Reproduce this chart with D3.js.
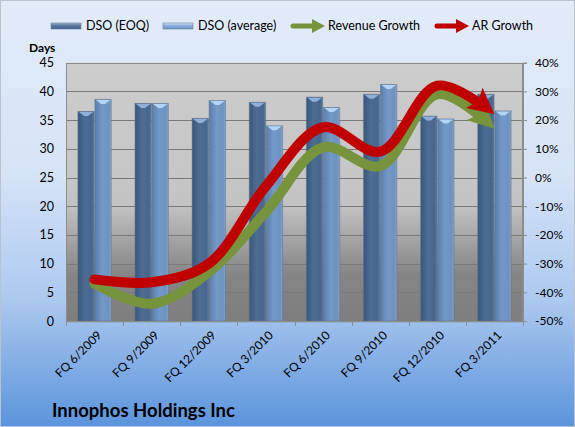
<!DOCTYPE html>
<html>
<head>
<meta charset="utf-8">
<script src="https://cdn.jsdelivr.net/npm/d3@7"></script>
<style>
  body { margin: 0; }
  text { font-family: Lato, "Open Sans", sans-serif; fill: #000; }
</style>
</head>
<body>
<div id="chart"></div>
<script>
var svgWidth = 575;
var svgHeight = 427;

// data
var categories = ["FQ 6/2009", "FQ 9/2009", "FQ 12/2009", "FQ 3/2010", "FQ 6/2010", "FQ 9/2010", "FQ 12/2010", "FQ 3/2011"];
var dsoEoq = [36.5, 37.9, 35.3, 38.1, 39.0, 39.5, 35.7, 39.5];
var dsoAvg = [38.6, 37.9, 38.4, 34.0, 37.2, 41.2, 35.2, 36.6];
var revenueGrowth = [-0.37, -0.44, -0.33, -0.12, 0.105, 0.04, 0.29, 0.17];
var arGrowth = [-0.355, -0.365, -0.30, -0.03, 0.175, 0.09, 0.32, 0.22];
var daysTicks = [0, 5, 10, 15, 20, 25, 30, 35, 40, 45];
var pctTicks = [-0.5, -0.4, -0.3, -0.2, -0.1, 0, 0.1, 0.2, 0.3, 0.4];

var plot = { left: 66, right: 523, top: 62.7, bottom: 321 };

var svg = d3.select("#chart")
            .append("svg")
            .attr("width", svgWidth)
            .attr("height", svgHeight);

var defs = svg.append("defs");

function linGrad(id, vertical, stops) {
    var g = defs.append("linearGradient").attr("id", id)
        .attr("x1", 0).attr("y1", 0)
        .attr("x2", vertical ? 0 : 1).attr("y2", vertical ? 1 : 0);
    stops.forEach(function(s) {
        g.append("stop").attr("offset", s[0]).attr("stop-color", s[1]);
    });
}

linGrad("bgGrad", true, [[0, "#e2ebf9"], [0.4, "#d6e4f7"], [0.7, "#adc9ef"], [1, "#5b94dc"]]);
linGrad("plotGrad", true, [[0, "#cccccc"], [0.45, "#c6c6c6"], [0.55, "#c3c3c3"], [0.82, "#858585"], [1, "#7e7e7e"]]);
linGrad("eoqGrad", false, [[0, "#3a5779"], [0.45, "#4d6d95"], [0.85, "#46668e"], [1, "#5a7aa0"]]);
linGrad("avgGrad", false, [[0, "#5b7faa"], [0.45, "#7399c8"], [0.85, "#6c92c2"], [1, "#86a6cc"]]);
linGrad("eoqLeg", true, [[0, "#9fb3cc"], [0.4, "#5c7ba3"], [1, "#3f5e86"]]);
linGrad("avgLeg", true, [[0, "#d6e8fa"], [0.4, "#8fb2dc"], [1, "#6a91c2"]]);

svg.append("rect")
   .attr("x", 0.5).attr("y", 0.5)
   .attr("width", svgWidth - 1).attr("height", svgHeight - 1)
   .attr("fill", "url(#bgGrad)")
   .attr("stroke", "#b9c3cf");

var xScale = d3.scaleBand()
               .domain(categories)
               .range([plot.left, plot.right]);

var xInner = d3.scaleBand()
               .domain(["eoq", "avg"])
               .range([0, xScale.bandwidth()])
               .paddingInner(0.04)
               .paddingOuter(0.7);

var yDays = d3.scaleLinear()
              .domain([0, 45])
              .range([plot.bottom, plot.top]);

var yPct = d3.scaleLinear()
             .domain([-0.5, 0.4])
             .range([plot.bottom, plot.top]);

// plot area
svg.append("rect")
   .attr("x", plot.left).attr("y", plot.top)
   .attr("width", plot.right - plot.left).attr("height", plot.bottom - plot.top)
   .attr("fill", "url(#plotGrad)");

svg.append("g").selectAll("line")
   .data(daysTicks.slice(1))
   .join("line")
   .attr("x1", plot.left).attr("x2", plot.right)
   .attr("y1", d => Math.round(yDays(d)) + 0.5)
   .attr("y2", d => Math.round(yDays(d)) + 0.5)
   .attr("stroke", "#7a7a7a");

svg.append("rect")
   .attr("x", plot.left + 0.5).attr("y", Math.round(plot.top) + 0.5)
   .attr("width", plot.right - plot.left - 1).attr("height", plot.bottom - plot.top)
   .attr("fill", "none")
   .attr("stroke", "#8c8c8c");

// bars
var series = [
    { key: "eoq", values: dsoEoq, fill: "url(#eoqGrad)", cap: "#8fb0d8" },
    { key: "avg", values: dsoAvg, fill: "url(#avgGrad)", cap: "#b3d4f4" }
];

var barG = svg.append("g");
series.forEach(function(s) {
    var g = barG.append("g");
    var bw = xInner.bandwidth();
    g.selectAll("rect")
     .data(s.values)
     .join("rect")
     .attr("x", (d, i) => xScale(categories[i]) + xInner(s.key))
     .attr("y", d => yDays(d))
     .attr("width", bw)
     .attr("height", d => yDays(0) - yDays(d))
     .attr("fill", s.fill)
     .attr("stroke", "#5d6f86")
     .attr("stroke-opacity", 0.5);
    g.selectAll("path")
     .data(s.values)
     .join("path")
     .attr("d", function(d, i) {
        var x0 = xScale(categories[i]) + xInner(s.key);
        var y0 = yDays(d);
        return "M" + (x0 + 1) + "," + (y0 + 0.5) + "L" + (x0 + bw - 1) + "," + (y0 + 0.5) +
               "L" + (x0 + bw * 0.62) + "," + (y0 + 4.5) + "L" + (x0 + bw * 0.38) + "," + (y0 + 4.5) + "Z";
     })
     .attr("fill", s.cap);
});

// growth lines
function addArrow(id, color) {
    defs.append("marker")
        .attr("id", id)
        .attr("viewBox", "0 0 26 26")
        .attr("refX", 26).attr("refY", 13)
        .attr("markerWidth", 26).attr("markerHeight", 26)
        .attr("markerUnits", "userSpaceOnUse")
        .attr("orient", "auto")
        .append("path")
        .attr("d", "M0,0L26,13L0,26L5,13Z")
        .attr("fill", color);
}
addArrow("arrowGreen", "#77933c");
addArrow("arrowRed", "#c00000");

var line = d3.line()
             .x((d, i) => xScale(categories[i]) + xScale.bandwidth() / 2)
             .y(d => yPct(d))
             .curve(d3.curveCatmullRom.alpha(0.5));

[[revenueGrowth, "#77933c", "arrowGreen"], [arGrowth, "#c00000", "arrowRed"]].forEach(function(l) {
    var p = svg.append("path")
               .attr("d", line(l[0]))
               .attr("fill", "none")
               .attr("stroke", l[1])
               .attr("stroke-width", 10)
               .attr("stroke-linecap", "round")
               .attr("marker-end", "url(#" + l[2] + ")");
    var len = p.node().getTotalLength();
    p.attr("stroke-dasharray", (len - 20) + " " + len);
});

// axes
var leftAxis = svg.append("g")
   .attr("transform", `translate(${plot.left}, 0)`)
   .call(d3.axisLeft(yDays).tickValues(daysTicks).tickSize(0).tickPadding(12));
leftAxis.select(".domain").remove();
leftAxis.selectAll("text").style("font-size", "12.5px").attr("font-family", null);

var rightAxis = svg.append("g")
   .attr("transform", `translate(${plot.right}, 0)`)
   .call(d3.axisRight(yPct).tickValues(pctTicks).tickSize(4).tickPadding(8)
           .tickFormat(d => Math.round(d * 100) + "%"));
rightAxis.select(".domain").attr("stroke", "#8c8c8c");
rightAxis.selectAll(".tick line").attr("stroke", "#8c8c8c");
rightAxis.selectAll("text").style("font-size", "12px").attr("font-family", null);

var bottomAxis = svg.append("g")
   .attr("transform", `translate(0, ${plot.bottom})`)
   .call(d3.axisBottom(xScale).tickSize(0).tickSizeOuter(0));
bottomAxis.select(".domain").attr("stroke", "#8c8c8c");
bottomAxis.selectAll("text")
   .attr("font-family", null)
   .style("font-size", "12px")
   .attr("text-anchor", "end")
   .attr("x", 0).attr("y", 0).attr("dy", "0.35em")
   .attr("transform", "translate(5, 12) rotate(-45)");

svg.append("g").selectAll("line")
   .data(categories.map(c => xScale(c)).concat([plot.right]))
   .join("line")
   .attr("x1", d => Math.round(d) + 0.5).attr("x2", d => Math.round(d) + 0.5)
   .attr("y1", plot.bottom).attr("y2", plot.bottom + 5)
   .attr("stroke", "#8c8c8c");

svg.append("text")
   .attr("x", 29).attr("y", 52)
   .style("font-size", "12px").style("font-weight", "bold")
   .text("Days");

// legend
var legendItems = [
    { label: "DSO (EOQ)", type: "bar", fill: "url(#eoqLeg)", x: 51 },
    { label: "DSO (average)", type: "bar", fill: "url(#avgLeg)", x: 163 },
    { label: "Revenue Growth", type: "arrow", fill: "#77933c", x: 293 },
    { label: "AR Growth", type: "arrow", fill: "#c00000", x: 437 }
];
var legend = svg.append("g");
legendItems.forEach(function(it) {
    var g = legend.append("g").attr("transform", `translate(${it.x}, 26)`);
    if (it.type === "bar") {
        g.append("rect").attr("x", 0).attr("y", -3).attr("width", 30).attr("height", 6)
         .attr("fill", it.fill).attr("stroke", "#6b7f99").attr("stroke-width", 0.6);
    } else {
        g.append("path").attr("d", "M0,0L20,0")
         .attr("stroke", it.fill).attr("stroke-width", 5).attr("stroke-linecap", "round");
        g.append("path").attr("d", "M19,-7L32,0L19,7Z").attr("fill", it.fill);
    }
    g.append("text").attr("x", 35).attr("y", 0).attr("dy", "0.35em")
     .style("font-size", "12.5px").text(it.label);
});

svg.append("text")
   .attr("x", 52).attr("y", 417)
   .style("font-size", "18.5px").style("font-weight", "bold")
   .text("Innophos Holdings Inc");
</script>
</body>
</html>
